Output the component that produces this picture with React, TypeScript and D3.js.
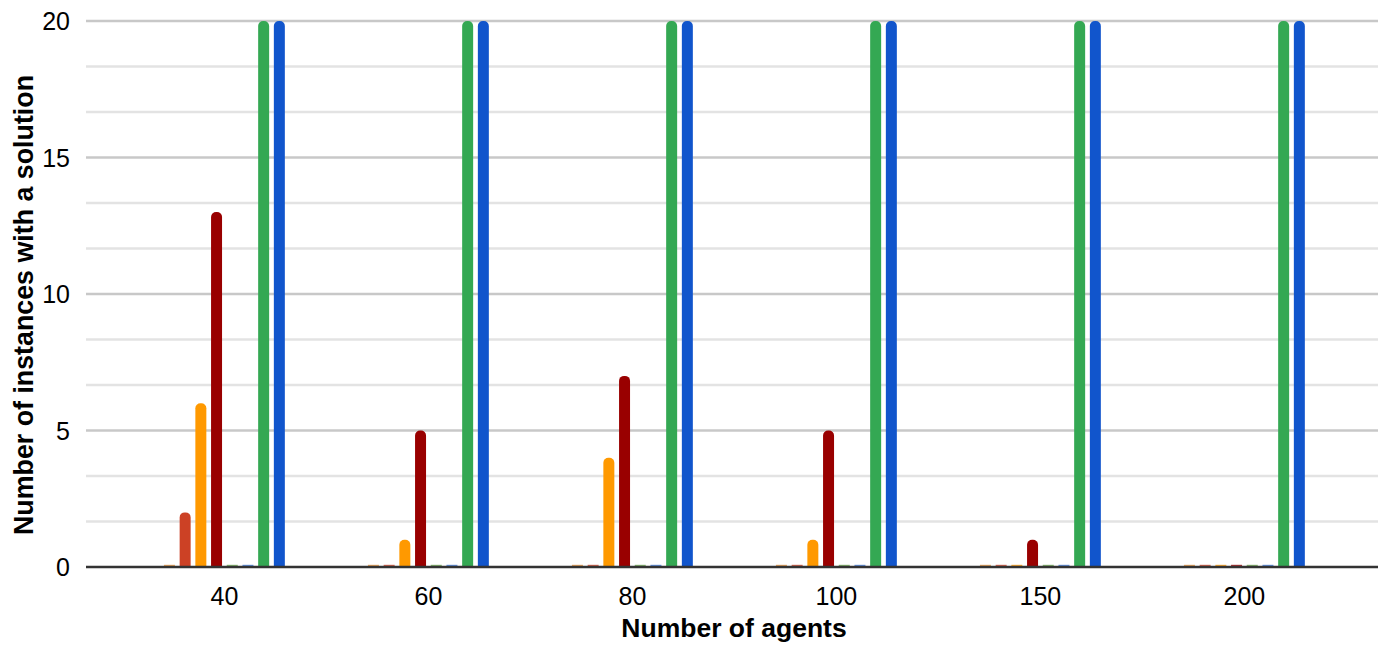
import React from "react";
import * as d3 from "d3";

const categories = ["40", "60", "80", "100", "150", "200"];
const seriesNames = ["S1", "S2", "S3", "S4", "S5", "S6", "S7", "S8"];
const seriesColors = ["#e69138", "#cc4125", "#ff9900", "#990000", "#6aa84f", "#3c78d8", "#34a853", "#1155cc"];
const s1 = [0, 0, 0, 0, 0, 0];
const s2 = [2, 0, 0, 0, 0, 0];
const s3 = [6, 1, 4, 1, 0, 0];
const s4 = [13, 5, 7, 5, 1, 0];
const s5 = [0, 0, 0, 0, 0, 0];
const s6 = [0, 0, 0, 0, 0, 0];
const s7 = [20, 20, 20, 20, 20, 20];
const s8 = [20, 20, 20, 20, 20, 20];
const seriesValues = [s1, s2, s3, s4, s5, s6, s7, s8];
const majorTicks = [0, 5, 10, 15, 20];

const W = 1378;
const H = 649;
const plotLeft = 86;
const plotRight = 1378;
const FONT = "Arial, 'Liberation Sans', sans-serif";

function topRoundedBar(x: number, y: number, w: number, h: number, r: number) {
  const rr = Math.min(r, w / 2, h);
  return `M${x},${y + h}V${y + rr}A${rr},${rr} 0 0 1 ${x + rr},${y}H${x + w - rr}A${rr},${rr} 0 0 1 ${x + w},${y + rr}V${y + h}Z`;
}

export default function App() {
  const x0 = d3.scaleBand<string>().domain(categories).range([122.4, 1346.4]).padding(0);
  const groupW = 8 * 15.7;
  const x1 = d3
    .scaleBand<string>()
    .domain(seriesNames)
    .range([-groupW / 2, groupW / 2])
    .paddingInner(0.3)
    .paddingOuter(0.15);
  const y = d3.scaleLinear().domain([0, 20]).range([567, 21]);
  const minorTicks = d3.range(0, 20 + 1e-9, 5 / 3).filter((v) => Math.abs(v / 5 - Math.round(v / 5)) > 1e-6);

  return (
    <svg width={W} height={H} style={{ position: "absolute", left: 0, top: 0, background: "#fff" }}>
      <rect x={0} y={0} width={W} height={H} fill="#fff" />
      {minorTicks.map((t, i) => (
        <line key={"mi" + i} x1={plotLeft} x2={plotRight} y1={y(t)} y2={y(t)} stroke="#e3e3e3" strokeWidth={2.3} />
      ))}
      {majorTicks.filter((t) => t !== 0).map((t) => (
        <line key={"ma" + t} x1={plotLeft} x2={plotRight} y1={y(t)} y2={y(t)} stroke="#c8c8c8" strokeWidth={2.3} />
      ))}
      {majorTicks.map((t) => (
        <text key={"yl" + t} x={70} y={y(t)} dy="0.36em" textAnchor="end" fontFamily={FONT} fontSize={25} fill="#000">
          {t}
        </text>
      ))}
      {categories.map((c, ci) => {
        const cx = (x0(c) as number) + x0.bandwidth() / 2;
        return (
          <g key={c}>
            {seriesNames.map((s, si) => {
              const v = seriesValues[si][ci];
              const bx = cx + (x1(s) as number);
              const bw = x1.bandwidth();
              if (v === 0) {
                return <rect key={s} x={bx} y={y(0) - 2.2} width={bw} height={1.4} fill={seriesColors[si]} opacity={0.8} />;
              }
              return <path key={s} d={topRoundedBar(bx, y(v), bw, y(0) - y(v), 5)} fill={seriesColors[si]} />;
            })}
            <text x={cx} y={605} textAnchor="middle" fontFamily={FONT} fontSize={25} fill="#000">
              {c}
            </text>
          </g>
        );
      })}
      <line x1={plotLeft} x2={plotRight} y1={y(0)} y2={y(0)} stroke="#333333" strokeWidth={2.7} />
      <text x={734} y={637} textAnchor="middle" fontFamily={FONT} fontWeight="bold" fontSize={26.5} fill="#000">
        Number of agents
      </text>
      <text
        transform={`translate(33,305) rotate(-90)`}
        textAnchor="middle"
        fontFamily={FONT}
        fontWeight="bold"
        fontSize={26.8}
        fill="#000"
      >
        Number of instances with a solution
      </text>
    </svg>
  );
}
